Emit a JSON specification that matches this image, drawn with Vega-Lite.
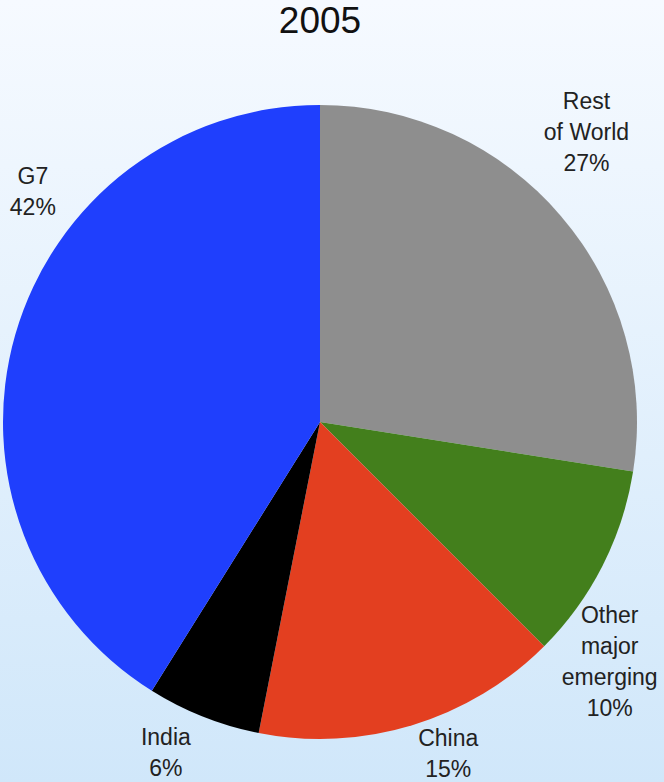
{
  "$schema": "https://vega.github.io/schema/vega-lite/v6.json",
  "width": 688,
  "height": 844,
  "autosize": "none",
  "padding": {"left": -24, "top": 0, "right": 0, "bottom": 0},
  "background": "#f5f9ff",
  "view": {
    "stroke": null,
    "fill": {
      "gradient": "linear",
      "x1": 0, "y1": 0, "x2": 0, "y2": 1,
      "stops": [
        {"offset": 0, "color": "#f6faff"},
        {"offset": 0.93, "color": "#d0e7fa"},
        {"offset": 1, "color": "#cde5f9"}
      ]
    }
  },
  "title": {
    "text": "2005",
    "font": "Liberation Sans",
    "fontSize": 37,
    "fontWeight": "normal",
    "color": "#111111",
    "frame": "group",
    "anchor": "middle",
    "baseline": "alphabetic",
    "offset": -70
  },
  "data": {
    "values": [
      {"idx": 1, "name": "Rest of World", "value": 27.5, "label": "Rest\nof World\n27%"},
      {"idx": 2, "name": "Other major emerging", "value": 10.0, "label": "Other\nmajor\nemerging\n10%"},
      {"idx": 3, "name": "China", "value": 15.6, "label": "China\n15%"},
      {"idx": 4, "name": "India", "value": 5.8, "label": "India\n6%"},
      {"idx": 5, "name": "G7", "value": 41.1, "label": "G7\n42%"}
    ]
  },
  "encoding": {
    "theta": {"field": "value", "type": "quantitative", "stack": true},
    "order": {"field": "idx", "type": "quantitative"}
  },
  "layer": [
    {
      "mark": {"type": "arc", "outerRadius": 317, "stroke": null},
      "encoding": {
        "color": {
          "field": "name",
          "type": "nominal",
          "scale": {
            "domain": ["Rest of World", "Other major emerging", "China", "India", "G7"],
            "range": ["#8e8e8e", "#437f1c", "#e33f20", "#000000", "#1f3ffd"]
          },
          "legend": null
        }
      }
    },
    {
      "mark": {"type": "text", "radius": 393, "thetaOffset": -0.119, "dy": -31, "font": "Liberation Sans", "fontSize": 23, "color": "#222222", "lineBreak": "\n", "lineHeight": 31, "align": "center", "baseline": "middle"},
      "encoding": {
        "text": {"condition": {"test": "datum.name === 'Rest of World'", "field": "label"}, "value": ""}
      }
    },
    {
      "mark": {"type": "text", "radius": 376, "thetaOffset": 0.22, "dy": -46, "font": "Liberation Sans", "fontSize": 23, "color": "#222222", "lineBreak": "\n", "lineHeight": 31, "align": "center", "baseline": "middle"},
      "encoding": {
        "text": {"condition": {"test": "datum.name === 'Other major emerging'", "field": "label"}, "value": ""}
      }
    },
    {
      "mark": {"type": "text", "radius": 356, "thetaOffset": -0.073, "dy": -15, "font": "Liberation Sans", "fontSize": 23, "color": "#222222", "lineBreak": "\n", "lineHeight": 31, "align": "center", "baseline": "middle"},
      "encoding": {
        "text": {"condition": {"test": "datum.name === 'China'", "field": "label"}, "value": ""}
      }
    },
    {
      "mark": {"type": "text", "radius": 365, "thetaOffset": 0.059, "dy": -15, "font": "Liberation Sans", "fontSize": 23, "color": "#222222", "lineBreak": "\n", "lineHeight": 31, "align": "center", "baseline": "middle"},
      "encoding": {
        "text": {"condition": {"test": "datum.name === 'India'", "field": "label"}, "value": ""}
      }
    },
    {
      "mark": {"type": "text", "radius": 368, "thetaOffset": 0.396, "dy": -15, "font": "Liberation Sans", "fontSize": 23, "color": "#222222", "lineBreak": "\n", "lineHeight": 31, "align": "center", "baseline": "middle"},
      "encoding": {
        "text": {"condition": {"test": "datum.name === 'G7'", "field": "label"}, "value": ""}
      }
    }
  ]
}
